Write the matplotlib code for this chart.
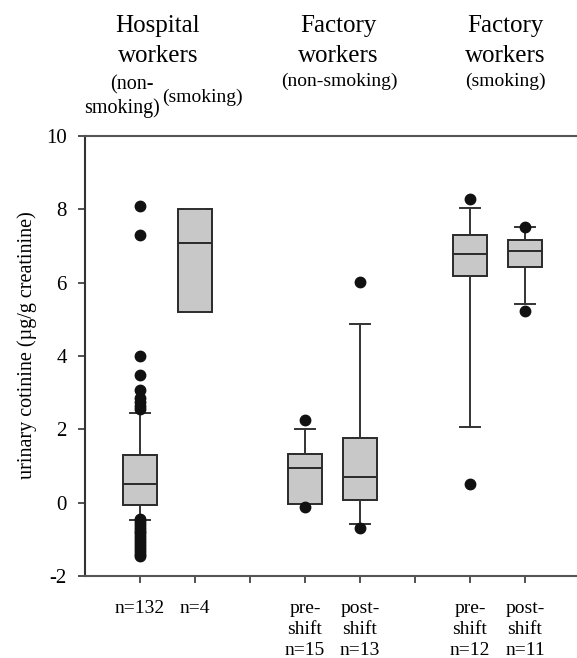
import matplotlib
matplotlib.use("Agg")
import matplotlib.pyplot as plt
import numpy as np

plt.rcParams['font.family'] = ['Liberation Serif', 'DejaVu Serif']
plt.rcParams['axes.unicode_minus'] = False

# box positions along the x axis (ticks 3 and 6 are group gaps)
positions = [1, 2, 4, 5, 7, 8]
tick_positions = [1, 2, 3, 4, 5, 6, 7, 8]
tick_labels = ["n=132", "n=4", "", "pre-\nshift\nn=15", "post-\nshift\nn=13",
               "", "pre-\nshift\nn=12", "post-\nshift\nn=11"]

# box statistics (µg/g creatinine)
q1 = [-0.05, 5.21, -0.04, 0.07, 6.17, 6.44]
med = [0.50, 7.09, 0.95, 0.69, 6.79, 6.86]
q3 = [1.30, 8.00, 1.32, 1.76, 7.30, 7.17]
whislo = [-0.47, 5.21, -0.04, -0.58, 2.07, 5.43]
whishi = [2.45, 8.00, 2.01, 4.88, 8.04, 7.52]
fliers = [
    [8.10, 7.30, 4.01, 3.47, 3.08, 2.85, 2.75, 2.65, 2.55,
     -0.45, -0.52, -0.60, -0.68, -0.76, -0.84, -0.92, -1.00, -1.08,
     -1.16, -1.24, -1.32, -1.40, -1.46],
    [],
    [2.26, -0.11],
    [6.01, -0.70],
    [8.28, 0.50],
    [7.53, 5.24],
]

group_titles = ["Hospital\nworkers", "Factory\nworkers", "Factory\nworkers"]

W, H = 577, 658
fig = plt.figure(figsize=(W / 100, H / 100), dpi=100)
ax = fig.add_axes([85 / W, (H - 576) / H, (W - 85) / W, 440 / H])

stats = []
for i in range(len(positions)):
    stats.append(dict(q1=q1[i], med=med[i], q3=q3[i], whislo=whislo[i],
                      whishi=whishi[i], fliers=fliers[i]))

edge = "#2a2a2a"
ax.bxp(stats, positions=positions, widths=0.62, patch_artist=True,
       showcaps=True, capwidths=0.38,
       boxprops=dict(facecolor="#c8c8c8", edgecolor=edge, linewidth=1.4),
       medianprops=dict(color=edge, linewidth=1.4),
       whiskerprops=dict(color="#333333", linewidth=1.4),
       capprops=dict(color="#333333", linewidth=1.4),
       flierprops=dict(marker="o", markerfacecolor="#111111",
                       markeredgecolor="#111111", markersize=7.5))

ax.set_xlim(0, (W - 85) / 55)
ax.set_ylim(-2, 10)
ax.set_yticks(np.arange(-2, 11, 2))
ax.set_xticks(tick_positions)
ax.set_xticklabels(tick_labels, fontsize=14, linespacing=1.32, va="top")
ax.tick_params(axis="y", direction="out", length=5, width=1.2,
               labelsize=15, pad=8, color="#333333")
ax.tick_params(axis="x", direction="out", length=5, width=1.2,
               pad=12, color="#333333")

for side in ["top", "bottom"]:
    ax.spines[side].set_color("#555555")
    ax.spines[side].set_linewidth(1.5)
ax.spines["left"].set_color("#333333")
ax.spines["left"].set_linewidth(1.5)
ax.spines["right"].set_visible(False)

ax.set_ylabel("urinary cotinine (µg/g creatinine)", fontsize=14.5)
ax.yaxis.set_label_coords(-0.097, 0.525)

# group headings above the plot
def ftext(x, y, s, size, ls=1.25):
    fig.text(x / W, 1 - y / H, s, ha="center", va="center", fontsize=size,
             linespacing=ls)

ftext(158, 41, group_titles[0], 18, 1.45)
ftext(338, 41, group_titles[1], 18, 1.45)
ftext(505, 41, group_titles[2], 18, 1.45)
ftext(132, 85, "(non-", 14.5)
ftext(122, 108, "smoking)", 14.5)
ftext(202, 97, "(smoking)", 14)
ftext(339, 81, "(non-smoking)", 14)
ftext(505, 81, "(smoking)", 14)

fig.savefig("out.png", dpi=100)
